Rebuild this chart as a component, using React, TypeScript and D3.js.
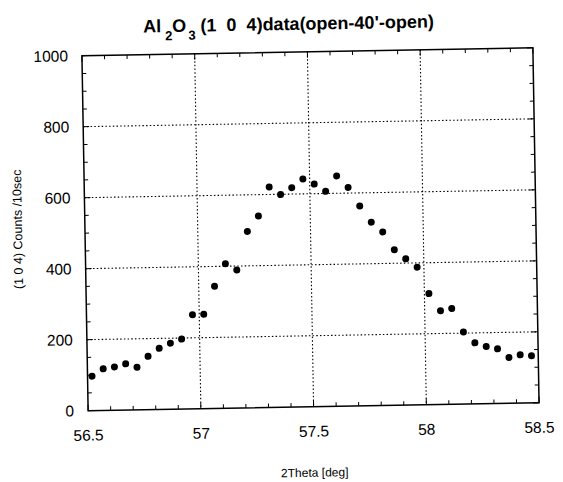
import React from "react";
import * as d3 from "d3";

const thetas = [
  56.52, 56.57, 56.62, 56.67, 56.72, 56.77, 56.82, 56.87, 56.92, 56.97,
  57.02, 57.07, 57.12, 57.17, 57.22, 57.27, 57.32, 57.37, 57.42, 57.47,
  57.52, 57.57, 57.62, 57.67, 57.72, 57.77, 57.82, 57.87, 57.92, 57.97,
  58.02, 58.07, 58.12, 58.17, 58.22, 58.27, 58.32, 58.37, 58.42, 58.47,
];
const counts = [
  97, 117, 122, 130, 120, 150, 172, 186, 197, 265,
  266, 344, 407, 389, 497, 540, 621, 599, 618, 642,
  627, 606, 649, 616, 563, 517, 489, 438, 412, 388,
  313, 264, 270, 203, 172, 161, 154, 129, 136, 133,
];
const xTicks = [56.5, 57, 57.5, 58, 58.5];
const xTickLabels = ["56.5", "57", "57.5", "58", "58.5"];
const yTicks = [0, 200, 400, 600, 800, 1000];
const xGrid = [57, 57.5, 58];
const yGrid = [200, 400, 600, 800];

const W = 563;
const H = 482;
const L = 85, R = 536, T = 51.75, B = 406.75;
const FONT = "'Liberation Sans', Arial, Helvetica, sans-serif";

export default function App() {
  const x = d3.scaleLinear().domain([56.5, 58.5]).range([L, R]);
  const y = d3.scaleLinear().domain([0, 1000]).range([B, T]);
  const xMinor = d3.range(0, 21).map((i) => 56.5 + i * 0.1);
  const yMinor = d3.range(0, 21).map((i) => i * 50);
  const cx = (L + R) / 2;
  const cy = (T + B) / 2;

  return (
    <svg
      width={W}
      height={H}
      style={{ position: "absolute", left: 0, top: 0, background: "#fff" }}
    >
      <rect x={0} y={0} width={W} height={H} fill="#fff" />
      <g transform={`rotate(-1 ${cx} ${cy})`} fontFamily={FONT} fill="#000">
        {/* grid */}
        {xGrid.map((v) => (
          <line key={"gx" + v} x1={x(v)} x2={x(v)} y1={T} y2={B}
            stroke="#000" strokeWidth={1.1} strokeDasharray="1.5,2.2" />
        ))}
        {yGrid.map((v) => (
          <line key={"gy" + v} x1={L} x2={R} y1={y(v)} y2={y(v)}
            stroke="#000" strokeWidth={1.1} strokeDasharray="1.5,2.2" />
        ))}
        {/* minor ticks */}
        {xMinor.map((v, i) => (
          <g key={"xt" + i}>
            <line x1={x(v)} x2={x(v)} y1={B} y2={B - (i % 5 === 0 ? 6 : 4)} stroke="#000" strokeWidth={1} />
            <line x1={x(v)} x2={x(v)} y1={T} y2={T + (i % 5 === 0 ? 6 : 4)} stroke="#000" strokeWidth={1} />
          </g>
        ))}
        {yMinor.map((v, i) => (
          <g key={"yt" + i}>
            <line x1={L} x2={L + (i % 4 === 0 ? 6 : 4)} y1={y(v)} y2={y(v)} stroke="#000" strokeWidth={1} />
            <line x1={R} x2={R - (i % 4 === 0 ? 6 : 4)} y1={y(v)} y2={y(v)} stroke="#000" strokeWidth={1} />
          </g>
        ))}
        {/* frame */}
        <rect x={L} y={T} width={R - L} height={B - T} fill="none" stroke="#000" strokeWidth={1.5} />
        {/* points */}
        {thetas.map((t, i) => (
          <circle key={"p" + i} cx={x(t)} cy={y(counts[i])} r={3.5} fill="#000" />
        ))}
        {/* x tick labels */}
        {xTicks.map((v, i) => (
          <text key={"xl" + v} x={x(v)} y={B + 30} fontSize={15.5} textAnchor="middle">
            {xTickLabels[i]}
          </text>
        ))}
        {/* y tick labels */}
        {yTicks.map((v) => (
          <text key={"yl" + v} x={L - 14} y={y(v)} dy="0.35em" fontSize={15.5} textAnchor="end">
            {v}
          </text>
        ))}
        {/* axis titles */}
        <text x={cx} y={B + 70} fontSize={12} textAnchor="middle">
          2Theta [deg]
        </text>
        <text transform={`translate(22 ${cy - 5}) rotate(-90)`} fontSize={12.5} textAnchor="middle">
          (1 0 4) Counts /10sec
        </text>
        {/* title */}
        <text x={292} y={29.7} fontSize={18} fontWeight="bold" textAnchor="middle" style={{ whiteSpace: "pre" }}>
          <tspan>Al</tspan>
          <tspan dx={4} dy={8} fontSize={13}>2</tspan>
          <tspan dy={-8}>O</tspan>
          <tspan dx={2} dy={8} fontSize={13}>3</tspan>
          <tspan dx={5} dy={-8}>{"(1  0  4)data(open-40'-open)"}</tspan>
        </text>
      </g>
    </svg>
  );
}
